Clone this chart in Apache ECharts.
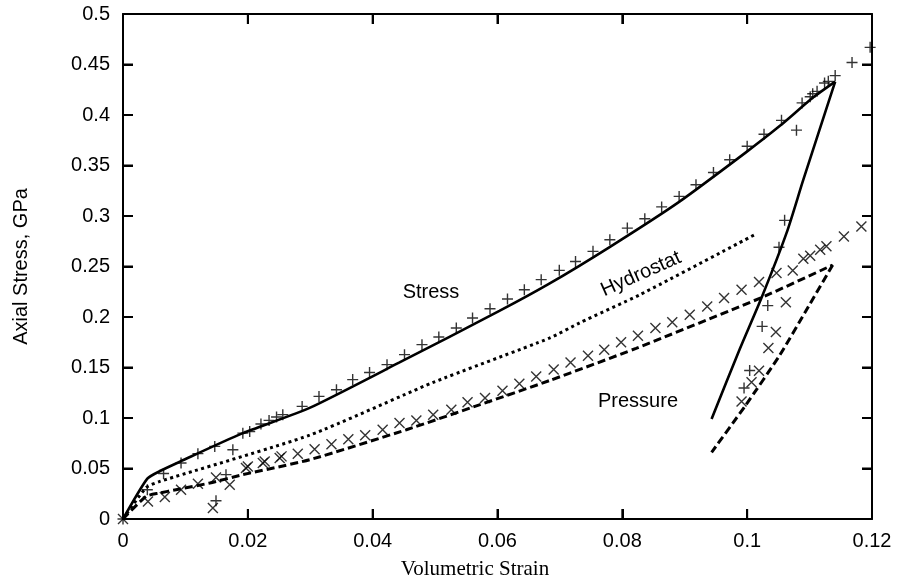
<!DOCTYPE html>
<html>
<head>
<meta charset="utf-8">
<script src="https://cdn.jsdelivr.net/npm/echarts@6/dist/echarts.min.js"></script>
<style>
  html, body { margin: 0; padding: 0; background: #fff; }
  #chart { width: 900px; height: 581px; }
</style>
</head>
<body>
<div id="chart"></div>
<script>
// model curves (volumetric strain, axial stress GPa)
var stressLoad = [
  [0, 0], [0.0039, 0.040], [0.0061, 0.048], [0.0092, 0.057], [0.019, 0.0845],
  [0.0299, 0.110], [0.0443, 0.155], [0.0603, 0.206], [0.0683, 0.233], [0.0779, 0.269],
  [0.0891, 0.314], [0.0998, 0.363], [0.1052, 0.389], [0.1105, 0.417], [0.1141, 0.433]
];
var stressUnload = [
  [0.1141, 0.433], [0.109, 0.336], [0.1063, 0.283], [0.1023, 0.219], [0.0988, 0.168], [0.0943, 0.099]
];
var hydroLine = [
  [0, 0], [0.0037, 0.031], [0.0058, 0.037], [0.0299, 0.083], [0.0496, 0.135],
  [0.0683, 0.179], [0.0731, 0.194], [0.0828, 0.222], [0.1012, 0.2815]
];
var pressureLoad = [
  [0, 0], [0.0037, 0.0224], [0.0058, 0.0257], [0.0085, 0.029], [0.0139, 0.0356],
  [0.0192, 0.0439], [0.0299, 0.0587], [0.0454, 0.0884], [0.0571, 0.113], [0.0683, 0.137],
  [0.0822, 0.169], [0.1022, 0.219], [0.1137, 0.2515]
];
var pressureUnload = [
  [0.1137, 0.2515], [0.1094, 0.206], [0.1052, 0.162], [0.0998, 0.113], [0.0943, 0.066]
];
// measured points
var stressPts = [
  [0, 0], [0.0039, 0.029], [0.0065, 0.045], [0.0093, 0.0554], [0.012, 0.0647], [0.0147, 0.0719],
  [0.0149, 0.0181], [0.0165, 0.0439], [0.0176, 0.0686], [0.0192, 0.085], [0.0203, 0.0867],
  [0.0221, 0.094], [0.0234, 0.0976], [0.0246, 0.101], [0.0256, 0.1033], [0.0287, 0.1115],
  [0.0314, 0.1214], [0.0342, 0.128], [0.0368, 0.138], [0.0395, 0.145], [0.0423, 0.1528],
  [0.0451, 0.1627], [0.0479, 0.1726], [0.0506, 0.1802], [0.0534, 0.1891], [0.056, 0.199],
  [0.0588, 0.2082], [0.0616, 0.2178], [0.0643, 0.227], [0.067, 0.237], [0.0699, 0.2462],
  [0.0725, 0.255], [0.0753, 0.265], [0.078, 0.2765], [0.0808, 0.288], [0.0836, 0.2973],
  [0.0863, 0.309], [0.0891, 0.3194], [0.0918, 0.331], [0.0946, 0.343], [0.0972, 0.3557],
  [0.1, 0.369], [0.1027, 0.381], [0.1055, 0.3947], [0.1079, 0.385], [0.1088, 0.412],
  [0.1101, 0.418], [0.1105, 0.421], [0.1112, 0.4234], [0.1124, 0.4317], [0.113, 0.4333],
  [0.1141, 0.439], [0.1168, 0.452], [0.1197, 0.467],
  [0.106, 0.2957], [0.1051, 0.269], [0.1033, 0.2113], [0.1024, 0.1907], [0.1004, 0.147], [0.0995, 0.1297]
];
var pressurePts = [
  [0, 0], [0.004, 0.0174], [0.0067, 0.0218], [0.0093, 0.029], [0.012, 0.035], [0.0144, 0.0109],
  [0.0149, 0.0412], [0.0171, 0.034], [0.0197, 0.0505], [0.02, 0.052], [0.0224, 0.0554],
  [0.0227, 0.057], [0.0251, 0.0604], [0.0254, 0.062], [0.028, 0.0647], [0.0307, 0.069],
  [0.0334, 0.074], [0.0361, 0.079], [0.0388, 0.083], [0.0416, 0.0884], [0.0443, 0.095],
  [0.047, 0.0976], [0.0497, 0.1033], [0.0526, 0.1082], [0.0552, 0.1155], [0.058, 0.1198],
  [0.0608, 0.127], [0.0635, 0.134], [0.0662, 0.1412], [0.069, 0.148], [0.0717, 0.155],
  [0.0745, 0.1617], [0.0771, 0.1676], [0.0798, 0.1749], [0.0825, 0.1815], [0.0853, 0.189],
  [0.088, 0.1947], [0.0908, 0.2023], [0.0936, 0.2105], [0.0963, 0.2188], [0.0991, 0.227],
  [0.1019, 0.2347], [0.1047, 0.2436], [0.1073, 0.246], [0.109, 0.2577], [0.1101, 0.2607],
  [0.1117, 0.2666], [0.1127, 0.27], [0.1155, 0.2798], [0.1183, 0.2897],
  [0.1062, 0.2145], [0.1046, 0.1852], [0.1034, 0.1693], [0.1019, 0.1468], [0.1007, 0.1353], [0.0991, 0.1164]
];
// tick positions
var xTicks = [0, 0.02, 0.04, 0.06, 0.08, 0.1, 0.12];
var yTicks = [0, 0.05, 0.1, 0.15, 0.2, 0.25, 0.3, 0.35, 0.4, 0.45, 0.5];

var X_MIN = 0, X_MAX = 0.12, Y_MIN = 0, Y_MAX = 0.5;
var TICK = 10;

var sans = '"Liberation Sans", Arial, sans-serif';
var chart = echarts.init(document.getElementById('chart'));

function fmt(v) { return String(+v.toFixed(2)); }

var frameLine = { show: true, onZero: false, lineStyle: { color: '#000', width: 2 } };
var frameTick = { show: true, inside: true, length: TICK, lineStyle: { color: '#000', width: 2 } };

function curve(data, type, width, smooth) {
  return {
    type: 'line', data: data, symbol: 'none', smooth: smooth,
    lineStyle: { color: '#000', width: width, type: type }
  };
}

// inward ticks on all four sides, placed through the axis scales
var tickData = xTicks.map(function (v) { return [v, 0]; })
  .concat(yTicks.map(function (v) { return [v, 1]; }));

function renderTick(params, api) {
  var v = api.value(0), kind = api.value(1);
  var a, b, segs;
  if (kind === 0) {
    a = api.coord([v, Y_MIN]); b = api.coord([v, Y_MAX]);
    segs = [[a[0], a[1], a[0], a[1] - TICK], [b[0], b[1], b[0], b[1] + TICK]];
  } else {
    a = api.coord([X_MIN, v]); b = api.coord([X_MAX, v]);
    segs = [[a[0], a[1], a[0] + TICK, a[1]], [b[0], b[1], b[0] - TICK, b[1]]];
  }
  return {
    type: 'group',
    children: segs.map(function (s) {
      return {
        type: 'line',
        shape: { x1: s[0], y1: s[1], x2: s[2], y2: s[3] },
        style: { stroke: '#000', lineWidth: 2 }
      };
    })
  };
}

chart.setOption({
  animation: false,
  grid: { left: 123, right: 28, top: 14, bottom: 62, outerBoundsMode: 'none' },
  xAxis: [
    {
      type: 'value', min: X_MIN, max: X_MAX, interval: 0.02, position: 'bottom',
      name: 'Volumetric Strain', nameLocation: 'middle', nameGap: 40,
      nameTextStyle: { fontFamily: '"Liberation Serif", "Times New Roman", serif', fontSize: 21, color: '#000', padding: [0, 45, 0, 0] },
      axisLine: frameLine, axisTick: frameTick, splitLine: { show: false },
      axisLabel: { fontFamily: sans, fontSize: 20, color: '#000', margin: 12, formatter: fmt }
    },
    {
      type: 'value', min: X_MIN, max: X_MAX, interval: 0.02, position: 'top',
      axisLine: frameLine, axisTick: frameTick, splitLine: { show: false },
      axisLabel: { show: false }
    }
  ],
  yAxis: [
    {
      type: 'value', min: Y_MIN, max: Y_MAX, interval: 0.05, position: 'left',
      name: 'Axial Stress, GPa', nameLocation: 'middle', nameGap: 92,
      nameTextStyle: { fontFamily: sans, fontSize: 20, color: '#000' },
      axisLine: frameLine, axisTick: frameTick, splitLine: { show: false },
      axisLabel: { fontFamily: sans, fontSize: 20, color: '#000', margin: 13, formatter: fmt }
    },
    {
      type: 'value', min: Y_MIN, max: Y_MAX, interval: 0.05, position: 'right',
      axisLine: frameLine, axisTick: frameTick, splitLine: { show: false },
      axisLabel: { show: false }
    }
  ],
  series: [
    curve(stressLoad, 'solid', 2.6, 0.2),
    curve(stressUnload, 'solid', 2.6, 0.25),
    curve(hydroLine, [3, 3.5], 3, 0.2),
    curve(pressureLoad, [8, 4], 3, 0.2),
    curve(pressureUnload, [8, 4], 3, 0.2),
    {
      name: 'Stress data', type: 'scatter', data: stressPts,
      symbol: 'path://M0,5L10,5M5,0L5,10', symbolSize: 11,
      itemStyle: { color: 'transparent', borderColor: '#000', borderWidth: 1.4 }
    },
    {
      name: 'Pressure data', type: 'scatter', data: pressurePts,
      symbol: 'path://M0,0L10,10M10,0L0,10', symbolSize: 10,
      itemStyle: { color: 'transparent', borderColor: '#000', borderWidth: 1.4 }
    },
    {
      name: 'ticks', type: 'custom', data: tickData, renderItem: renderTick,
      clip: false, silent: true, z: 10
    }
  ],
  graphic: [
    { type: 'text', x: 431, y: 292, style: { text: 'Stress', font: '20px ' + sans, fill: '#000', align: 'center', verticalAlign: 'middle' } },
    { type: 'text', x: 641, y: 274, rotation: 24 * Math.PI / 180, style: { text: 'Hydrostat', font: '20px ' + sans, fill: '#000', align: 'center', verticalAlign: 'middle' } },
    { type: 'text', x: 638, y: 401, style: { text: 'Pressure', font: '20px ' + sans, fill: '#000', align: 'center', verticalAlign: 'middle' } }
  ]
});
</script>
</body>
</html>
